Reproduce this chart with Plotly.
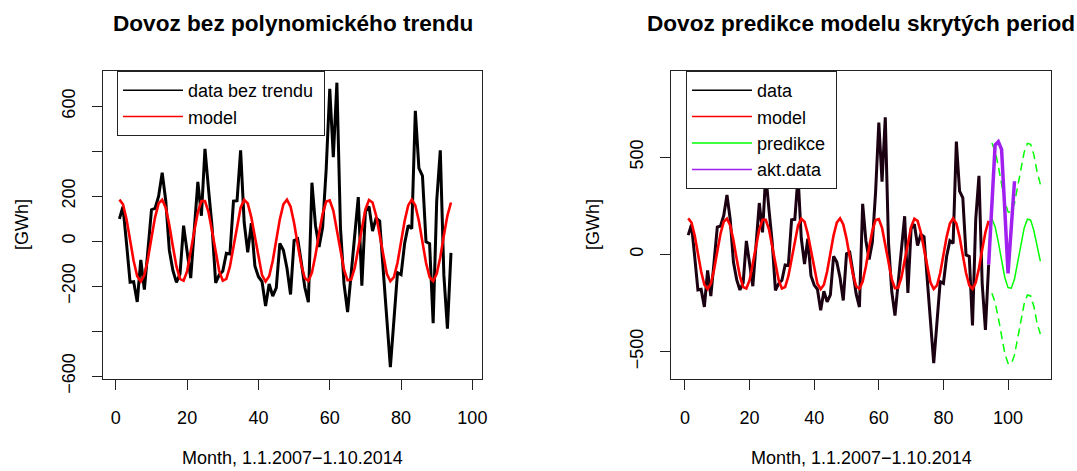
import plotly.graph_objects as go

# ---- data ----
months = list(range(1, 95))
data_bez_trendu = [99, 153, -10, -183, -180, -270, -83, -215, -40, 140,
                   146, 200, 305, 180, -40, -130, -183, -146, 69, -60,
                   -164, 50, 264, 113, 411, 230, 62, -185, -150, -133,
                   -54, -57, 178, 180, 404, 83, -50, 80, -110, -158,
                   -180, -288, -190, -244, -208, -10, -40, -120, -237, 3,
                   10, -92, -205, -271, 260, 70, -26, 62, 320, 678,
                   374, 705, 60, -190, -315, -145, 25, 196, -198, 132,
                   155, 45, 103, 90, -130, -350, -560, -350, -140, -149,
                   -10, 70, 56, 580, 325, 291, -3, -11, -365, 180,
                   404, -150, -389, -52]
model = [185, 164, 98, 5, -88, -156, -179, -151, -79, 15,
         106, 168, 184, 149, 72, -24, -112, -168, -176, -133,
         -52, 44, 129, 178, 178, 129, 44, -52, -133, -176,
         -168, -112, -24, 72, 149, 184, 168, 106, 15, -79,
         -151, -179, -156, -88, 5, 98, 164, 185, 154, 81,
         -14, -104, -164, -177, -140, -62, 35, 122, 176, 181,
         136, 54, -43, -127, -174, -171, -119, -33, 63, 142,
         183, 172, 114, 25, -71, -145, -178, -160, -96, -4,
         90, 159, 185, 159, 90, -4, -96, -160, -178, -145,
         -71, 25, 114, 172]
pred_months = list(range(95, 111))
predikce = [183, 142, 63, -33, -119, -171, -174, -127, -43, 54, 136, 181, 176, 122, 35, -35]
pred_upper = [573, 532, 453, 357, 271, 219, 216, 263, 347, 444, 526, 571, 566, 512, 425, 360]
pred_lower = [-200, -248, -327, -423, -509, -561, -564, -517, -433, -336, -254, -209, -214, -268, -355, -410]
akt_months = list(range(94, 103))
akt_data = [-52, 255, 562, 580, 540, 230, -98, 138, 376]

left_yticks = [-600, -400, -200, 0, 200, 400, 600]
left_ytext = ["\u2212600", "", "\u2212200", "0", "200", "", "600"]
right_yticks = [-500, 0, 500]
right_ytext = ["\u2212500", "0", "500"]
xticks = [0, 20, 40, 60, 80, 100]

W, H = 1077, 471
FONT = "Liberation Sans, Arial, Helvetica, sans-serif"
BLACK, RED, GREEN, PURPLE = "#000000", "#FF0000", "#00FF00", "#A020F0"
NB = "\u00a0"

def px(x):
    return x / W

def py(y):
    return (H - y) / H

fig = go.Figure()

# left panel
fig.add_trace(go.Scatter(x=months, y=data_bez_trendu, mode="lines",
                         line=dict(color=BLACK, width=3), showlegend=False,
                         xaxis="x", yaxis="y"))
fig.add_trace(go.Scatter(x=months, y=model, mode="lines",
                         line=dict(color=RED, width=2.6), showlegend=False,
                         xaxis="x", yaxis="y"))
# legend entries (left)
fig.add_trace(go.Scatter(x=[None], y=[None], mode="lines", name="data bez trendu" + NB,
                         line=dict(color=BLACK, width=1.5), legend="legend",
                         xaxis="x", yaxis="y"))
fig.add_trace(go.Scatter(x=[None], y=[None], mode="lines", name="model",
                         line=dict(color=RED, width=1.5), legend="legend",
                         xaxis="x", yaxis="y"))

# right panel
fig.add_trace(go.Scatter(x=months, y=data_bez_trendu, mode="lines",
                         line=dict(color="#1a0010", width=3), showlegend=False,
                         xaxis="x2", yaxis="y2"))
fig.add_trace(go.Scatter(x=months, y=model, mode="lines",
                         line=dict(color=RED, width=2.6), showlegend=False,
                         xaxis="x2", yaxis="y2"))
fig.add_trace(go.Scatter(x=pred_months, y=predikce, mode="lines",
                         line=dict(color=GREEN, width=1.5), showlegend=False,
                         xaxis="x2", yaxis="y2"))
fig.add_trace(go.Scatter(x=pred_months, y=pred_upper, mode="lines",
                         line=dict(color=GREEN, width=1.5, dash="8px,5px"), showlegend=False,
                         xaxis="x2", yaxis="y2"))
fig.add_trace(go.Scatter(x=pred_months, y=pred_lower, mode="lines",
                         line=dict(color=GREEN, width=1.5, dash="8px,5px"), showlegend=False,
                         xaxis="x2", yaxis="y2"))
fig.add_trace(go.Scatter(x=akt_months, y=akt_data, mode="lines",
                         line=dict(color=PURPLE, width=3.5), showlegend=False,
                         xaxis="x2", yaxis="y2"))
# legend entries (right)
for nm, col in [("data", BLACK), ("model", RED), ("predikce" + NB, GREEN), ("akt.data", PURPLE)]:
    fig.add_trace(go.Scatter(x=[None], y=[None], mode="lines", name=nm,
                             line=dict(color=col, width=1.5), legend="legend2",
                             xaxis="x2", yaxis="y2"))

axis_common = dict(showline=True, mirror=True, linecolor="#222222", linewidth=1,
                   ticks="outside", ticklen=10, tickwidth=1, tickcolor="#222222",
                   showgrid=False, zeroline=False, automargin=False,
                   tickfont=dict(family=FONT, size=18, color="#000000"))

fig.update_layout(
    width=W, height=H,
    margin=dict(l=0, r=0, t=0, b=0, autoexpand=False),
    paper_bgcolor="white", plot_bgcolor="white",
    font=dict(family=FONT, size=18, color="#000000"),
    xaxis=dict(domain=[px(103), px(482)], range=[-3.6, 102.7], anchor="y",
               tickvals=xticks, ticklabelstandoff=12, **axis_common),
    yaxis=dict(domain=[py(379), py(71)], range=[-613, 757], anchor="x",
               tickvals=left_yticks, ticktext=left_ytext, tickangle=-90,
               ticklabelstandoff=10, **axis_common),
    xaxis2=dict(domain=[px(671), px(1051)], range=[-4.33, 113.3], anchor="y2",
                tickvals=xticks, ticklabelstandoff=12, **axis_common),
    yaxis2=dict(domain=[py(379), py(71)], range=[-641, 943], anchor="x2",
                tickvals=right_yticks, ticktext=right_ytext, tickangle=-90,
                ticklabelstandoff=10, **axis_common),
    legend=dict(x=px(117), y=py(71), xanchor="left", yanchor="top",
                bordercolor="#222222", borderwidth=1, bgcolor="white",
                font=dict(family=FONT, size=18), itemwidth=60,
                tracegroupgap=0),
    legend2=dict(x=px(686), y=py(71), xanchor="left", yanchor="top",
                 bordercolor="#222222", borderwidth=1, bgcolor="white",
                 font=dict(family=FONT, size=18), itemwidth=60,
                 tracegroupgap=0),
    showlegend=True,
)

annotations = [
    dict(text="<b>Dovoz bez polynomického trendu</b>", x=px(292.5), y=py(24),
         font=dict(family=FONT, size=22.6)),
    dict(text="<b>Dovoz predikce modelu skrytých period</b>", x=px(861), y=py(24),
         font=dict(family=FONT, size=22.6)),
    dict(text="Month, 1.1.2007\u22121.10.2014", x=px(292.5), y=py(458),
         font=dict(family=FONT, size=18)),
    dict(text="Month, 1.1.2007\u22121.10.2014", x=px(861), y=py(458),
         font=dict(family=FONT, size=18)),
    dict(text="[GWh]", x=px(22), y=py(225), textangle=-90,
         font=dict(family=FONT, size=18)),
    dict(text="[GWh]", x=px(593), y=py(225), textangle=-90,
         font=dict(family=FONT, size=18)),
]
for a in annotations:
    a.update(xref="paper", yref="paper", showarrow=False, xanchor="center", yanchor="middle")
fig.update_layout(annotations=annotations)

fig.write_html("out.html")
